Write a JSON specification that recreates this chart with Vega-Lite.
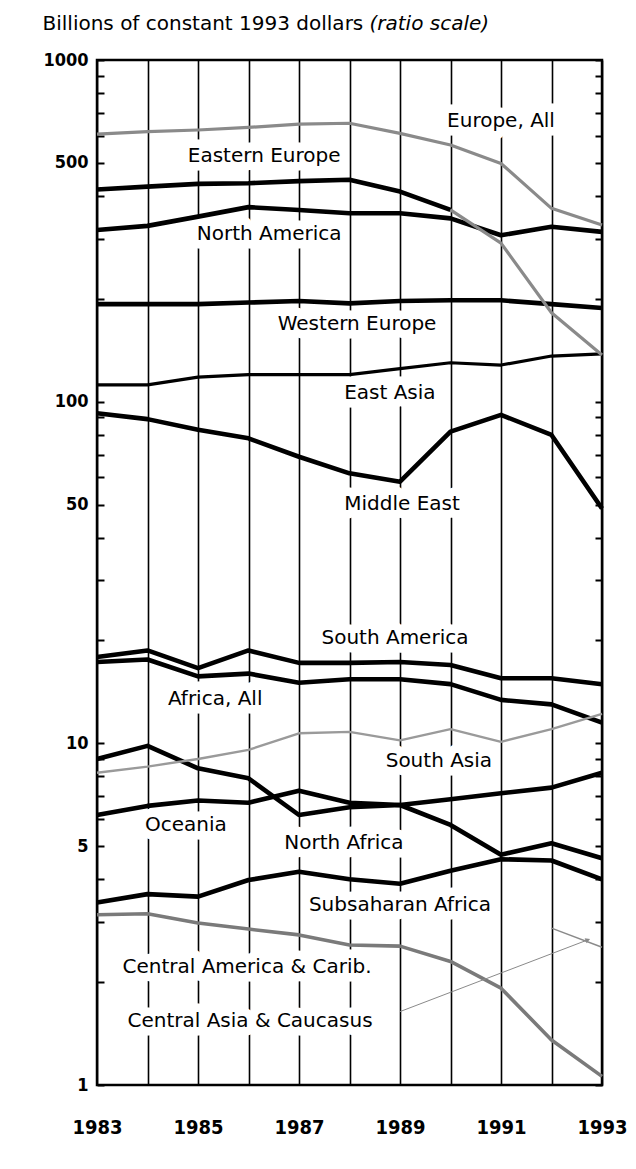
{
  "$schema": "https://vega.github.io/schema/vega-lite/v6.json",
  "width": 505,
  "height": 1025,
  "autosize": "none",
  "padding": {"left": 97, "top": 60, "right": 34, "bottom": 84},
  "background": "white",
  "config": {"view": {"stroke": "black", "strokeWidth": 2.5}, "font": "DejaVu Sans"},
  "datasets": {
    "mil": [
      {"series": "Europe, All", "year": 1983, "value": 607},
      {"series": "Europe, All", "year": 1984, "value": 617},
      {"series": "Europe, All", "year": 1985, "value": 624},
      {"series": "Europe, All", "year": 1986, "value": 635},
      {"series": "Europe, All", "year": 1987, "value": 649},
      {"series": "Europe, All", "year": 1988, "value": 653},
      {"series": "Europe, All", "year": 1989, "value": 610},
      {"series": "Europe, All", "year": 1990, "value": 564},
      {"series": "Europe, All", "year": 1991, "value": 498},
      {"series": "Europe, All", "year": 1992, "value": 368},
      {"series": "Europe, All", "year": 1993, "value": 329},
      {"series": "Eastern Europe", "year": 1983, "value": 418},
      {"series": "Eastern Europe", "year": 1984, "value": 426},
      {"series": "Eastern Europe", "year": 1985, "value": 434},
      {"series": "Eastern Europe", "year": 1986, "value": 436},
      {"series": "Eastern Europe", "year": 1987, "value": 442},
      {"series": "Eastern Europe", "year": 1988, "value": 446},
      {"series": "Eastern Europe", "year": 1989, "value": 412},
      {"series": "Eastern Europe", "year": 1990, "value": 364},
      {"series": "Eastern Europe", "year": 1991, "value": 291},
      {"series": "Eastern Europe", "year": 1992, "value": 182},
      {"series": "Eastern Europe", "year": 1993, "value": 137},
      {"series": "North America", "year": 1983, "value": 318},
      {"series": "North America", "year": 1984, "value": 327},
      {"series": "North America", "year": 1985, "value": 348},
      {"series": "North America", "year": 1986, "value": 371},
      {"series": "North America", "year": 1987, "value": 364},
      {"series": "North America", "year": 1988, "value": 356},
      {"series": "North America", "year": 1989, "value": 356},
      {"series": "North America", "year": 1990, "value": 344},
      {"series": "North America", "year": 1991, "value": 307},
      {"series": "North America", "year": 1992, "value": 325},
      {"series": "North America", "year": 1993, "value": 314},
      {"series": "Western Europe", "year": 1983, "value": 193},
      {"series": "Western Europe", "year": 1984, "value": 193},
      {"series": "Western Europe", "year": 1985, "value": 193},
      {"series": "Western Europe", "year": 1986, "value": 195},
      {"series": "Western Europe", "year": 1987, "value": 197},
      {"series": "Western Europe", "year": 1988, "value": 194},
      {"series": "Western Europe", "year": 1989, "value": 197},
      {"series": "Western Europe", "year": 1990, "value": 198},
      {"series": "Western Europe", "year": 1991, "value": 198},
      {"series": "Western Europe", "year": 1992, "value": 193},
      {"series": "Western Europe", "year": 1993, "value": 188},
      {"series": "East Asia", "year": 1983, "value": 112},
      {"series": "East Asia", "year": 1984, "value": 112},
      {"series": "East Asia", "year": 1985, "value": 118},
      {"series": "East Asia", "year": 1986, "value": 120},
      {"series": "East Asia", "year": 1987, "value": 120},
      {"series": "East Asia", "year": 1988, "value": 120},
      {"series": "East Asia", "year": 1989, "value": 125},
      {"series": "East Asia", "year": 1990, "value": 130},
      {"series": "East Asia", "year": 1991, "value": 128},
      {"series": "East Asia", "year": 1992, "value": 136},
      {"series": "East Asia", "year": 1993, "value": 138},
      {"series": "Middle East", "year": 1983, "value": 92.5},
      {"series": "Middle East", "year": 1984, "value": 88.9},
      {"series": "Middle East", "year": 1985, "value": 82.7},
      {"series": "Middle East", "year": 1986, "value": 78.1},
      {"series": "Middle East", "year": 1987, "value": 69.0},
      {"series": "Middle East", "year": 1988, "value": 61.7},
      {"series": "Middle East", "year": 1989, "value": 58.3},
      {"series": "Middle East", "year": 1990, "value": 81.7},
      {"series": "Middle East", "year": 1991, "value": 91.5},
      {"series": "Middle East", "year": 1992, "value": 79.9},
      {"series": "Middle East", "year": 1993, "value": 48.7},
      {"series": "South America", "year": 1983, "value": 17.9},
      {"series": "South America", "year": 1984, "value": 18.7},
      {"series": "South America", "year": 1985, "value": 16.6},
      {"series": "South America", "year": 1986, "value": 18.7},
      {"series": "South America", "year": 1987, "value": 17.2},
      {"series": "South America", "year": 1988, "value": 17.2},
      {"series": "South America", "year": 1989, "value": 17.3},
      {"series": "South America", "year": 1990, "value": 16.95},
      {"series": "South America", "year": 1991, "value": 15.5},
      {"series": "South America", "year": 1992, "value": 15.5},
      {"series": "South America", "year": 1993, "value": 14.9},
      {"series": "Africa, All", "year": 1983, "value": 17.3},
      {"series": "Africa, All", "year": 1984, "value": 17.6},
      {"series": "Africa, All", "year": 1985, "value": 15.7},
      {"series": "Africa, All", "year": 1986, "value": 16.0},
      {"series": "Africa, All", "year": 1987, "value": 15.05},
      {"series": "Africa, All", "year": 1988, "value": 15.4},
      {"series": "Africa, All", "year": 1989, "value": 15.4},
      {"series": "Africa, All", "year": 1990, "value": 14.9},
      {"series": "Africa, All", "year": 1991, "value": 13.4},
      {"series": "Africa, All", "year": 1992, "value": 13.0},
      {"series": "Africa, All", "year": 1993, "value": 11.5},
      {"series": "South Asia", "year": 1983, "value": 8.2},
      {"series": "South Asia", "year": 1984, "value": 8.55},
      {"series": "South Asia", "year": 1985, "value": 9.0},
      {"series": "South Asia", "year": 1986, "value": 9.57},
      {"series": "South Asia", "year": 1987, "value": 10.7},
      {"series": "South Asia", "year": 1988, "value": 10.8},
      {"series": "South Asia", "year": 1989, "value": 10.2},
      {"series": "South Asia", "year": 1990, "value": 11.0},
      {"series": "South Asia", "year": 1991, "value": 10.1},
      {"series": "South Asia", "year": 1992, "value": 11.0},
      {"series": "South Asia", "year": 1993, "value": 12.2},
      {"series": "North Africa", "year": 1983, "value": 9.0},
      {"series": "North Africa", "year": 1984, "value": 9.83},
      {"series": "North Africa", "year": 1985, "value": 8.45},
      {"series": "North Africa", "year": 1986, "value": 7.9},
      {"series": "North Africa", "year": 1987, "value": 6.17},
      {"series": "North Africa", "year": 1988, "value": 6.5},
      {"series": "North Africa", "year": 1989, "value": 6.6},
      {"series": "North Africa", "year": 1990, "value": 5.77},
      {"series": "North Africa", "year": 1991, "value": 4.72},
      {"series": "North Africa", "year": 1992, "value": 5.1},
      {"series": "North Africa", "year": 1993, "value": 4.61},
      {"series": "Oceania", "year": 1983, "value": 6.17},
      {"series": "Oceania", "year": 1984, "value": 6.56},
      {"series": "Oceania", "year": 1985, "value": 6.8},
      {"series": "Oceania", "year": 1986, "value": 6.7},
      {"series": "Oceania", "year": 1987, "value": 7.27},
      {"series": "Oceania", "year": 1988, "value": 6.7},
      {"series": "Oceania", "year": 1989, "value": 6.6},
      {"series": "Oceania", "year": 1990, "value": 6.86},
      {"series": "Oceania", "year": 1991, "value": 7.14},
      {"series": "Oceania", "year": 1992, "value": 7.42},
      {"series": "Oceania", "year": 1993, "value": 8.2},
      {"series": "Subsaharan Africa", "year": 1983, "value": 3.42},
      {"series": "Subsaharan Africa", "year": 1984, "value": 3.62},
      {"series": "Subsaharan Africa", "year": 1985, "value": 3.56},
      {"series": "Subsaharan Africa", "year": 1986, "value": 3.98},
      {"series": "Subsaharan Africa", "year": 1987, "value": 4.21},
      {"series": "Subsaharan Africa", "year": 1988, "value": 4.0},
      {"series": "Subsaharan Africa", "year": 1989, "value": 3.88},
      {"series": "Subsaharan Africa", "year": 1990, "value": 4.24},
      {"series": "Subsaharan Africa", "year": 1991, "value": 4.58},
      {"series": "Subsaharan Africa", "year": 1992, "value": 4.54},
      {"series": "Subsaharan Africa", "year": 1993, "value": 4.0},
      {"series": "Central America & Carib.", "year": 1983, "value": 3.15},
      {"series": "Central America & Carib.", "year": 1984, "value": 3.17},
      {"series": "Central America & Carib.", "year": 1985, "value": 2.98},
      {"series": "Central America & Carib.", "year": 1986, "value": 2.86},
      {"series": "Central America & Carib.", "year": 1987, "value": 2.75},
      {"series": "Central America & Carib.", "year": 1988, "value": 2.57},
      {"series": "Central America & Carib.", "year": 1989, "value": 2.55},
      {"series": "Central America & Carib.", "year": 1990, "value": 2.3},
      {"series": "Central America & Carib.", "year": 1991, "value": 1.92},
      {"series": "Central America & Carib.", "year": 1992, "value": 1.355},
      {"series": "Central America & Carib.", "year": 1993, "value": 1.06},
      {"series": "Central Asia & Caucasus", "year": 1992, "value": 2.88},
      {"series": "Central Asia & Caucasus", "year": 1993, "value": 2.53}
    ],
    "labels": [
      {"label": "Europe, All", "year": 1991.0, "value": 664},
      {"label": "Eastern Europe", "year": 1986.31, "value": 525},
      {"label": "North America", "year": 1986.41, "value": 310},
      {"label": "Western Europe", "year": 1988.15, "value": 169},
      {"label": "East Asia", "year": 1988.8, "value": 106},
      {"label": "Middle East", "year": 1989.04, "value": 50.2},
      {"label": "South America", "year": 1988.9, "value": 20.4},
      {"label": "Africa, All", "year": 1985.34, "value": 13.5},
      {"label": "South Asia", "year": 1989.77, "value": 8.9},
      {"label": "Oceania", "year": 1984.76, "value": 5.77},
      {"label": "North Africa", "year": 1987.89, "value": 5.12},
      {"label": "Subsaharan Africa", "year": 1989.0, "value": 3.36},
      {"label": "Central America & Carib.", "year": 1985.97, "value": 2.22},
      {"label": "Central Asia & Caucasus", "year": 1986.03, "value": 1.54}
    ],
    "leader": [
      {"year": 1989.0, "value": 1.64, "year2": 1992.72, "value2": 2.66}
    ]
  },
  "encoding": {
    "x": {"field": "year", "type": "quantitative", "scale": {"domain": [1983, 1993], "nice": false, "zero": false},
      "axis": {"values": [1983, 1984, 1985, 1986, 1987, 1988, 1989, 1990, 1991, 1992, 1993], "format": "d", "grid": true, "gridColor": "black", "gridWidth": 1.6, "gridOpacity": 1, "domain": false, "ticks": false, "labelExpr": "datum.value % 2 == 1 ? datum.label : ''", "labelFont": "DejaVu Sans Condensed, DejaVu Sans", "labelFontSize": 20, "labelFontWeight": "bold", "labelColor": "black", "labelPadding": 32, "labelOverlap": false, "labelFlush": false, "title": null}},
    "y": {"field": "value", "type": "quantitative", "scale": {"type": "log", "domain": [1, 1000], "nice": false}, "axis": null}
  },
  "layer": [
    {
      "data": {"name": "labels"},
      "mark": {"type": "text", "font": "DejaVu Sans", "fontSize": 20, "align": "center", "baseline": "middle", "fill": "white", "stroke": "white", "strokeWidth": 17, "strokeJoin": "round"},
      "encoding": {
        "text": {"field": "label"}
      }
    },
    {
      "data": {"name": "mil"},
      "transform": [{"filter": "indexof(['North America','Western Europe','Middle East','South America','Africa, All','North Africa','Oceania','Subsaharan Africa'], datum.series) >= 0 || (datum.series == 'Eastern Europe' && datum.year <= 1990)"}],
      "mark": {"type": "line", "color": "black", "strokeWidth": 4.6, "strokeJoin": "round"},
      "encoding": {
        "y": {"field": "value", "type": "quantitative", "scale": {"type": "log", "domain": [1, 1000], "nice": false},
          "axis": {"orient": "left", "offset": -7, "values": [1, 2, 3, 4, 5, 6, 7, 8, 9, 10, 20, 30, 40, 50, 60, 70, 80, 90, 100, 200, 300, 400, 500, 600, 700, 800, 900, 1000], "format": "d", "tickSize": 7, "tickWidth": 2, "tickColor": "black", "domain": false, "grid": false, "labelExpr": "indexof([1, 5, 10, 50, 100, 500, 1000], datum.value) >= 0 ? datum.label : ''", "labelFont": "DejaVu Sans Condensed, DejaVu Sans", "labelFontSize": 18, "labelFontWeight": "bold", "labelColor": "black", "labelPadding": 9, "labelOverlap": false, "labelFlush": false, "title": "Billions of constant 1993 dollars", "titleAngle": 0, "titleX": -62, "titleY": -30.5, "titleAlign": "left", "titleBaseline": "alphabetic", "titleFont": "DejaVu Sans", "titleFontSize": 20, "titleFontWeight": "normal", "titleColor": "black"}},
        "detail": {"field": "series"}
      }
    },
    {
      "data": {"name": "mil"},
      "transform": [{"filter": "datum.series == 'East Asia'"}],
      "mark": {"type": "line", "color": "black", "strokeWidth": 3.2, "strokeJoin": "round"}
    },
    {
      "data": {"name": "mil"},
      "transform": [{"filter": "datum.series == 'Europe, All' || (datum.series == 'Eastern Europe' && datum.year >= 1990)"}],
      "mark": {"type": "line", "color": "#8a8a8a", "strokeWidth": 3.2, "strokeJoin": "round"},
      "encoding": {
        "detail": {"field": "series"}
      }
    },
    {
      "data": {"name": "mil"},
      "transform": [{"filter": "datum.series == 'Central America & Carib.'"}],
      "mark": {"type": "line", "color": "#7a7a7a", "strokeWidth": 3.6, "strokeJoin": "round"}
    },
    {
      "data": {"name": "mil"},
      "transform": [{"filter": "datum.series == 'South Asia'"}],
      "mark": {"type": "line", "color": "#9a9a9a", "strokeWidth": 2.4, "strokeJoin": "round"}
    },
    {
      "data": {"name": "mil"},
      "transform": [{"filter": "datum.series == 'Central Asia & Caucasus'"}],
      "mark": {"type": "line", "color": "#8a8a8a", "strokeWidth": 1.4}
    },
    {
      "data": {"name": "leader"},
      "mark": {"type": "rule", "color": "#8a8a8a", "strokeWidth": 1},
      "encoding": {
        "x2": {"field": "year2"},
        "y2": {"field": "value2"}
      }
    },
    {
      "data": {"name": "leader"},
      "mark": {"type": "point", "shape": "triangle-up", "angle": 69, "size": 30, "filled": true, "color": "#8a8a8a", "opacity": 1},
      "encoding": {
        "x": {"field": "year2", "type": "quantitative"},
        "y": {"field": "value2", "type": "quantitative"}
      }
    },
    {
      "data": {"name": "labels"},
      "mark": {"type": "text", "font": "DejaVu Sans", "fontSize": 20, "align": "center", "baseline": "middle", "color": "black"},
      "encoding": {
        "y": {"field": "value", "type": "quantitative",
          "axis": {"orient": "right", "offset": -7, "values": [1, 2, 3, 4, 5, 6, 7, 8, 9, 10, 20, 30, 40, 50, 60, 70, 80, 90, 100, 200, 300, 400, 500, 600, 700, 800, 900, 1000], "tickSize": 7, "tickWidth": 2, "tickColor": "black", "domain": false, "grid": false, "labels": false, "title": "(ratio scale)", "titleAngle": 0, "titleX": -226, "titleY": -30.5, "titleAlign": "left", "titleBaseline": "alphabetic", "titleFont": "DejaVu Sans", "titleFontSize": 20, "titleFontWeight": "normal", "titleFontStyle": "italic", "titleColor": "black"}},
        "text": {"field": "label"}
      }
    }
  ],
  "resolve": {"axis": {"y": "independent"}}
}
